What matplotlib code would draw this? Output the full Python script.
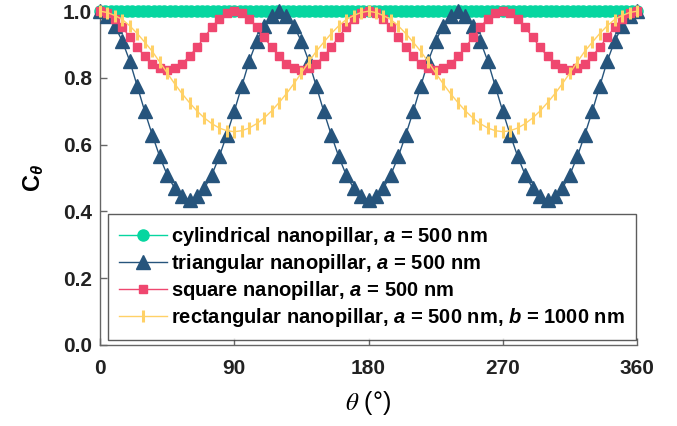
import matplotlib
matplotlib.use("Agg")
import matplotlib.pyplot as plt

# ---- data ----
theta_cyl = [i * 3.6 for i in range(101)]
cyl_values = [1.0] * 101

theta = list(range(0, 365, 5))
tri_values = [
    1.0, 0.985, 0.955, 0.91, 0.85, 0.775, 0.70, 0.63, 0.565, 0.51, 0.47, 0.445, 0.435,
    0.445, 0.47, 0.51, 0.565, 0.63, 0.70, 0.775, 0.85, 0.91, 0.955, 0.985, 1.0,
    0.985, 0.955, 0.91, 0.85, 0.775, 0.70, 0.63, 0.565, 0.51, 0.47, 0.445, 0.435,
    0.445, 0.47, 0.51, 0.565, 0.63, 0.70, 0.775, 0.85, 0.91, 0.955, 0.985, 1.0,
    0.985, 0.955, 0.91, 0.85, 0.775, 0.70, 0.63, 0.565, 0.51, 0.47, 0.445, 0.435,
    0.445, 0.47, 0.51, 0.565, 0.63, 0.70, 0.775, 0.85, 0.91, 0.955, 0.985, 1.0,
]
sq_values = [
    1.0, 0.995, 0.978, 0.952, 0.922, 0.892, 0.865, 0.843, 0.829, 0.824,
    0.829, 0.843, 0.865, 0.892, 0.922, 0.952, 0.978, 0.995, 1.0,
    0.995, 0.978, 0.952, 0.922, 0.892, 0.865, 0.843, 0.829, 0.824,
    0.829, 0.843, 0.865, 0.892, 0.922, 0.952, 0.978, 0.995, 1.0,
    0.995, 0.978, 0.952, 0.922, 0.892, 0.865, 0.843, 0.829, 0.824,
    0.829, 0.843, 0.865, 0.892, 0.922, 0.952, 0.978, 0.995, 1.0,
    0.995, 0.978, 0.952, 0.922, 0.892, 0.865, 0.843, 0.829, 0.824,
    0.829, 0.843, 0.865, 0.892, 0.922, 0.952, 0.978, 0.995, 1.0,
]
rect_values = [
    1.0, 0.996, 0.987, 0.975, 0.956, 0.933, 0.907, 0.880, 0.848, 0.815,
    0.783, 0.753, 0.726, 0.701, 0.680, 0.663, 0.650, 0.642, 0.639,
    0.642, 0.650, 0.663, 0.680, 0.701, 0.726, 0.753, 0.783, 0.815,
    0.848, 0.880, 0.907, 0.933, 0.956, 0.975, 0.987, 0.996, 1.0,
    0.996, 0.987, 0.975, 0.956, 0.933, 0.907, 0.880, 0.848, 0.815,
    0.783, 0.753, 0.726, 0.701, 0.680, 0.663, 0.650, 0.642, 0.639,
    0.642, 0.650, 0.663, 0.680, 0.701, 0.726, 0.753, 0.783, 0.815,
    0.848, 0.880, 0.907, 0.933, 0.956, 0.975, 0.987, 0.996, 1.0,
]

labels = [
    "cylindrical nanopillar, $a$ = 500 nm",
    "triangular nanopillar, $a$ = 500 nm",
    "square nanopillar, $a$ = 500 nm",
    "rectangular nanopillar, $a$ = 500 nm, $b$ = 1000 nm",
]
xticks = [0, 90, 180, 270, 360]
yticks = [0.0, 0.2, 0.4, 0.6, 0.8, 1.0]

# ---- style ----
plt.rcParams["font.family"] = ["Liberation Sans", "DejaVu Sans"]
plt.rcParams["mathtext.fontset"] = "custom"
plt.rcParams["mathtext.it"] = "Liberation Sans:italic:bold"
plt.rcParams["mathtext.rm"] = "Liberation Sans:bold"
plt.rcParams["mathtext.bf"] = "Liberation Sans:bold"

c_cyl = "#06D6A0"
c_tri = "#26547C"
c_sq = "#EF476F"
c_rect = "#FFD166"

fig = plt.figure(figsize=(6.77, 4.26), dpi=100)
ax = fig.add_axes([100 / 677, 1 - 345 / 426, 537 / 677, (345 - 11.2) / 426])

ax.plot(theta_cyl, cyl_values, color=c_cyl, lw=1, marker="o", ms=8,
        label=labels[0], clip_on=False, zorder=3)
ax.plot(theta, tri_values, color=c_tri, lw=1, marker="^", ms=9.5,
        label=labels[1], clip_on=False, zorder=4)
ax.plot(theta, sq_values, color=c_sq, lw=1, marker="s", ms=6,
        label=labels[2], clip_on=False, zorder=5)
ax.plot(theta, rect_values, color=c_rect, lw=1, marker="|", ms=8, mew=2.2,
        label=labels[3], clip_on=False, zorder=6)

ax.set_xlim(0, 360)
ax.set_ylim(0, 1.0)
ax.set_xticks(xticks)
ax.set_yticks(yticks)
ax.set_xticklabels([str(t) for t in xticks])
ax.set_yticklabels([f"{t:.1f}" for t in yticks])

for s in ["top", "right"]:
    ax.spines[s].set_visible(False)
for s in ["left", "bottom"]:
    ax.spines[s].set_color("#666666")
    ax.spines[s].set_linewidth(1.0)
ax.tick_params(direction="in", length=5, width=1, color="#666666",
               labelsize=15)
ax.tick_params(axis="x", pad=10)
ax.tick_params(axis="y", pad=6)
for lab in ax.get_xticklabels() + ax.get_yticklabels():
    lab.set_fontweight("bold")
    lab.set_color("#222222")

ax.set_xlabel(r"$\theta$ (°)", fontsize=18, math_fontfamily="stix", labelpad=8)
ax.set_ylabel(r"C$_\theta$", fontsize=17, fontweight="bold", labelpad=12)

leg = ax.legend(loc="lower left", bbox_to_anchor=(0.015, 0.015),
                prop={"weight": "bold", "size": 14.5}, frameon=True,
                fancybox=False, edgecolor="#333333", handlelength=2.4,
                labelspacing=0.2, borderpad=0.55, handletextpad=0.2,
                borderaxespad=0)
leg.get_frame().set_linewidth(1.0)

fig.savefig("out.png", dpi=100)
